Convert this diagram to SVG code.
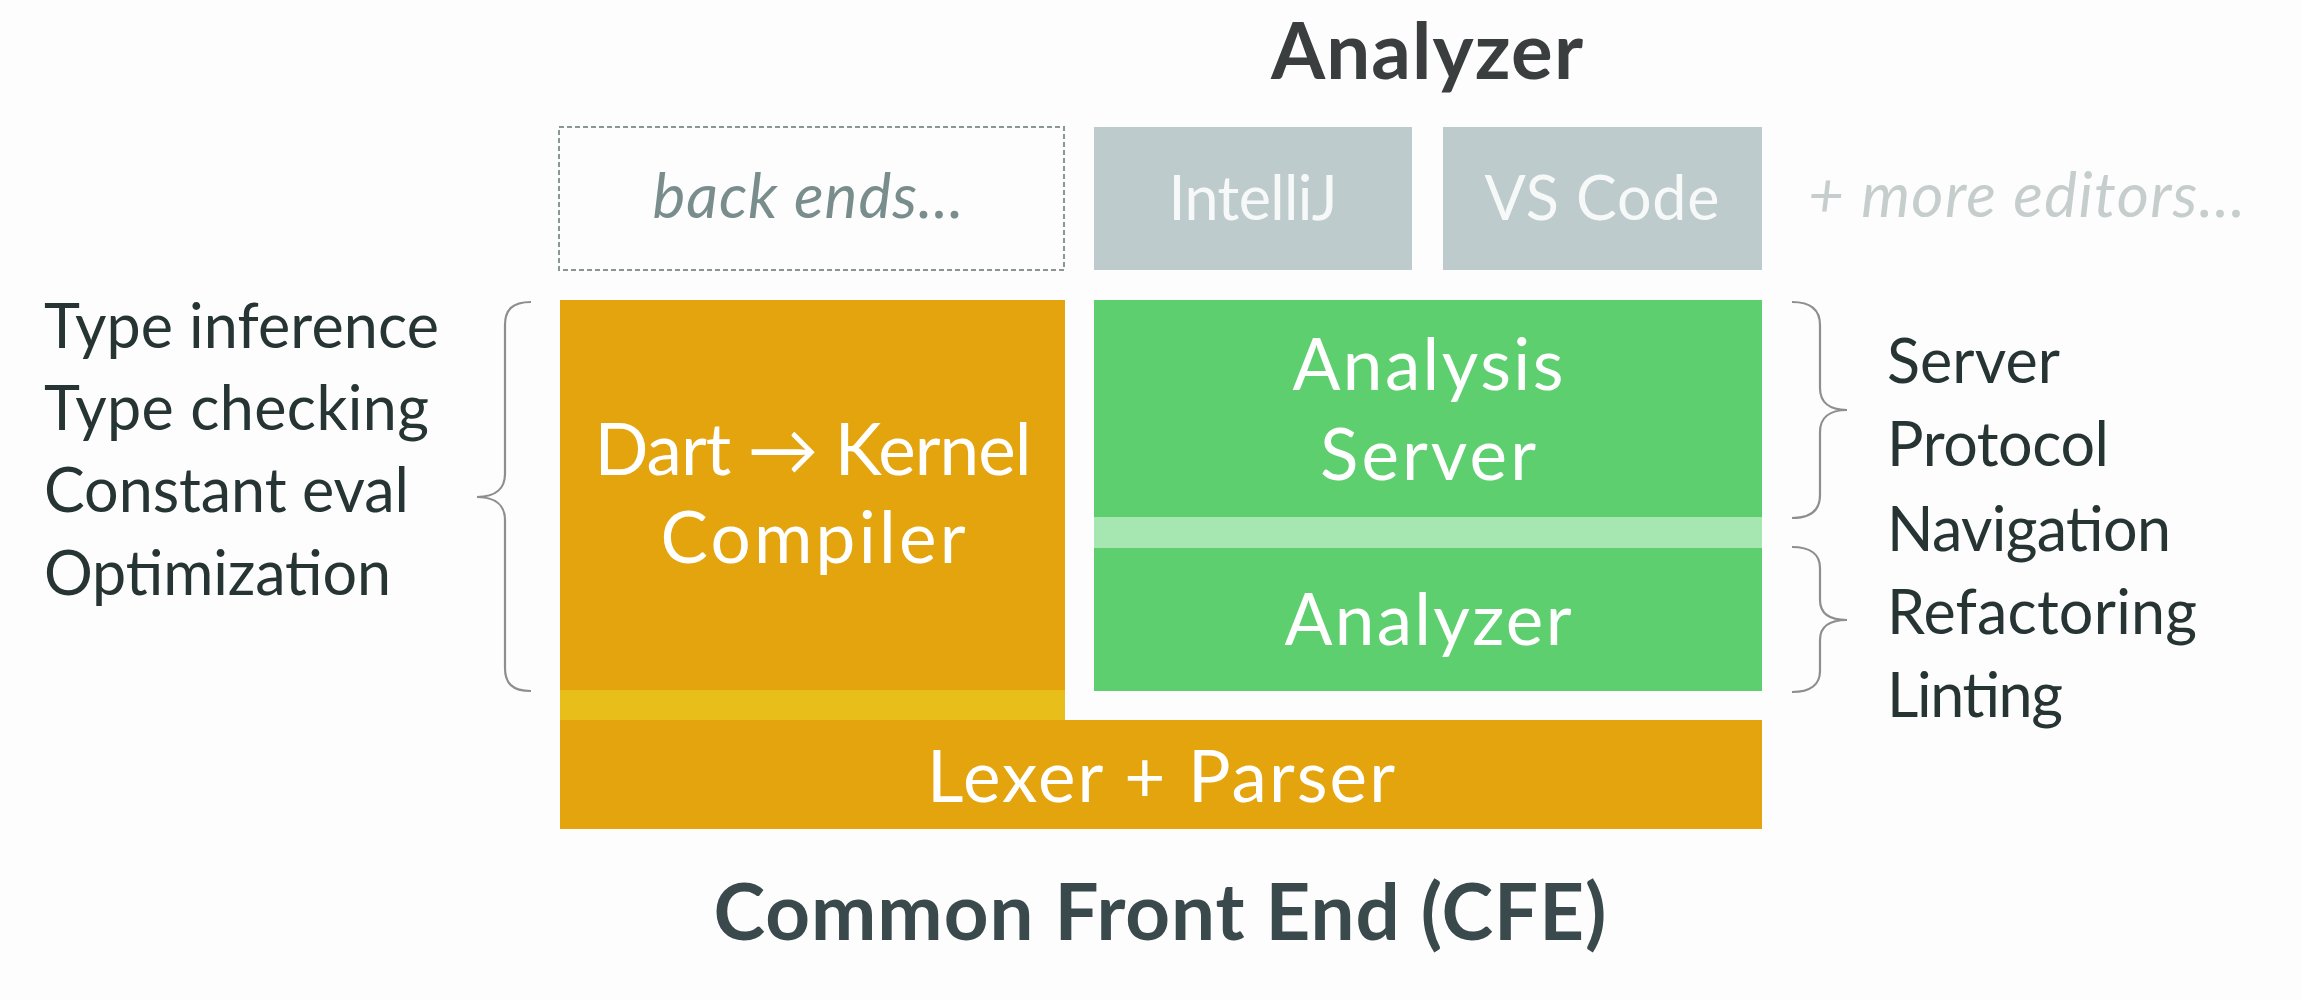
<svg xmlns="http://www.w3.org/2000/svg" width="2302" height="1000" viewBox="0 0 2302 1000">
<style>
  .t { font-family: Lato, "Open Sans", "Liberation Sans", sans-serif; }
  .side { font-size: 61px; fill: #263434; }
  .box { font-size: 71px; fill: #FFFFFF; text-anchor: middle; }
  .ed { font-size: 61px; fill: #F7F9F9; text-anchor: middle; }
  .title { font-size: 78px; font-weight: bold; text-anchor: middle; }
  .brace { fill: none; stroke: #8E8E8E; stroke-width: 2.2; }
</style>
<rect x="0" y="0" width="2302" height="1000" fill="#FCFDFC"/>

<text class="t title" x="1427" y="79" fill="#3A3E3E" textLength="312">Analyzer</text>

<g id="back-ends">
  <rect x="559" y="127" width="505" height="143" fill="none" stroke="#8C9696" stroke-width="2" stroke-dasharray="5 3"/>
  <text class="t" x="808" y="218" font-size="62" font-style="italic" fill="#7A8D8D" text-anchor="middle" textLength="311">back ends...</text>
</g>

<g id="intellij">
  <rect x="1094" y="127" width="318" height="143" fill="#BECBCD"/>
  <text class="t ed" x="1253" y="220" textLength="169">IntelliJ</text>
</g>

<g id="vscode">
  <rect x="1443" y="127" width="319" height="143" fill="#BECBCD"/>
  <text class="t ed" x="1602" y="220" textLength="235">VS Code</text>
</g>

<g id="more-editors">
  <text class="t" x="1808" y="217" font-size="62" font-style="italic" fill="#C6CDCD" textLength="437">+ more editors...</text>
</g>

<g id="dart-kernel">
  <rect x="560" y="300" width="505" height="420" fill="#E3A40E"/>
  <rect x="560" y="690" width="505" height="30" fill="#E8BE1A"/>
  <text class="t box" x="813" y="475" textLength="437">Dart → Kernel</text>
  <text class="t box" x="813" y="563" textLength="305">Compiler</text>
</g>

<g id="analysis-server">
  <rect x="1094" y="300" width="668" height="217" fill="#5ECF6E"/>
  <text class="t box" x="1428" y="390" textLength="271">Analysis</text>
  <text class="t box" x="1428" y="480" textLength="216">Server</text>
</g>

<g id="strip">
  <rect x="1094" y="517" width="668" height="31" fill="#A6E6B0"/>
</g>

<g id="analyzer">
  <rect x="1094" y="548" width="668" height="143" fill="#5ECF6E"/>
  <text class="t box" x="1428" y="645" textLength="287">Analyzer</text>
</g>

<g id="lexer-parser">
  <rect x="560" y="720" width="1202" height="109" fill="#E3A40E"/>
  <text class="t box" x="1161" y="802" textLength="468">Lexer + Parser</text>
</g>

<g id="cfe-features">
  <text class="t side" x="44" y="348" textLength="395">Type inference</text>
  <text class="t side" x="44" y="430" textLength="385">Type checking</text>
  <text class="t side" x="44" y="512" textLength="365">Constant eval</text>
  <text class="t side" x="44" y="595" textLength="347">Optimization</text>
</g>

<g id="analyzer-features">
  <text class="t side" x="1887" y="383" textLength="173">Server</text>
  <text class="t side" x="1887" y="466" textLength="222">Protocol</text>
  <text class="t side" x="1887" y="551" textLength="284">Navigation</text>
  <text class="t side" x="1887" y="634" textLength="310">Refactoring</text>
  <text class="t side" x="1887" y="717" textLength="176">Linting</text>
</g>

<g id="braces">
  <path class="brace" d="M531,302 C512,302 505,310 505,325 L505,474 C505,488 496,497 477,497 C496,497 505,506 505,520 L505,668 C505,683 512,691 531,691"/>
  <path class="brace" d="M1792,302 C1811,302 1820,310 1820,325 L1820,388 C1820,402 1829,410 1847,410 C1829,410 1820,418 1820,432 L1820,495 C1820,510 1811,518 1792,518"/>
  <path class="brace" d="M1792,547 C1811,547 1820,555 1820,568 L1820,600 C1820,613 1829,620 1847,620 C1829,620 1820,627 1820,640 L1820,671 C1820,684 1811,692 1792,692"/>
</g>

<text class="t title" x="1160" y="940" fill="#3A494B" textLength="893">Common Front End (CFE)</text>
</svg>
